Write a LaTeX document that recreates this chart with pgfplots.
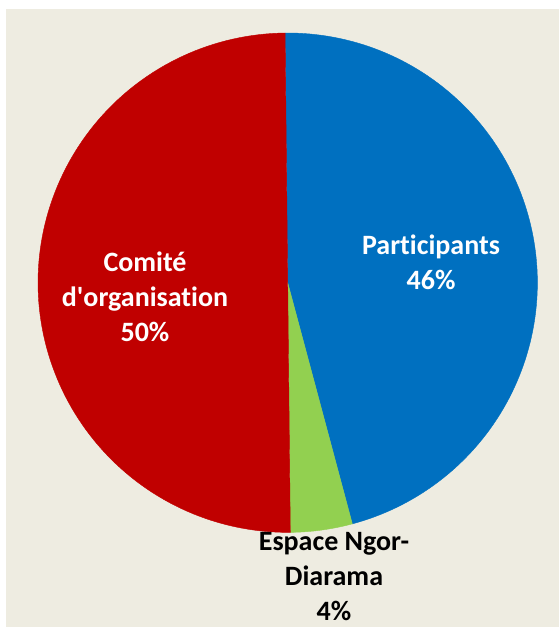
\documentclass[border=0pt]{standalone}
\usepackage{pgfplots}
\usepackage{pgfplotstable}
\usepackage{fontspec}
\setmainfont{Carlito}[Ligatures={NoCommon}]
\pgfplotsset{compat=1.18}

\definecolor{bgc}{HTML}{EEECE1}
\definecolor{partc}{HTML}{0070C0}
\definecolor{espc}{HTML}{92D050}
\definecolor{comc}{HTML}{C00000}

% shares in percent, clockwise from the top
\pgfplotstableread{
label share
Participants 46
Espace 4
Comite 50
}\piedata

\begin{document}
\begin{tikzpicture}
\pgfplotstablegetelem{0}{share}\of\piedata \let\sA\pgfplotsretval
\pgfplotstablegetelem{1}{share}\of\piedata \let\sB\pgfplotsretval
\pgfplotstablegetelem{2}{share}\of\piedata \let\sC\pgfplotsretval
\pgfmathsetmacro{\aA}{90.6}
\pgfmathsetmacro{\aB}{\aA-3.6*\sA}
\pgfmathsetmacro{\aC}{\aB-3.6*\sB}
\pgfmathsetmacro{\aD}{\aC-3.6*\sC}
\def\cx{287.7}
\def\cy{344.3}
\def\r{249.7}
\begin{axis}[
    scale only axis,
    width=419.25pt, height=470.25pt,
    xmin=0, xmax=559, ymin=0, ymax=627,
    hide axis,
    clip=false,
]
\fill[white] (axis cs:0,0) rectangle (axis cs:559,627);
\fill[bgc] (axis cs:6,0) rectangle (axis cs:559,618);

\addplot[fill=partc, draw=partc, line width=0.3pt, domain=\aA:\aB, samples=120, variable=\t]
    ({\cx+\r*cos(\t)}, {\cy+\r*sin(\t)}) -- (axis cs:\cx,\cy) -- cycle;
\addplot[fill=espc, draw=espc, line width=0.3pt, domain=\aB:\aC, samples=20, variable=\t]
    ({\cx+\r*cos(\t)}, {\cy+\r*sin(\t)}) -- (axis cs:\cx,\cy) -- cycle;
\addplot[fill=comc, draw=comc, line width=0.3pt, domain=\aC:\aD, samples=120, variable=\t]
    ({\cx+\r*cos(\t)}, {\cy+\r*sin(\t)}) -- (axis cs:\cx,\cy) -- cycle;

\node[white, align=center, font=\fontsize{21}{26.25}\selectfont\bfseries]
    at (axis cs:431,365) {Participants\\46\%};
\node[white, align=center, font=\fontsize{21}{26.25}\selectfont\bfseries]
    at (axis cs:145,330) {Comité\\d\textquotesingle organisation\\50\%};
\node[black, align=center, font=\fontsize{21}{26.25}\selectfont\bfseries]
    at (axis cs:334,50) {Espace Ngor-\\Diarama\\4\%};
\end{axis}
\pgfresetboundingbox
\useasboundingbox (0,0) rectangle (419.25pt,470.25pt);
\end{tikzpicture}
\end{document}
